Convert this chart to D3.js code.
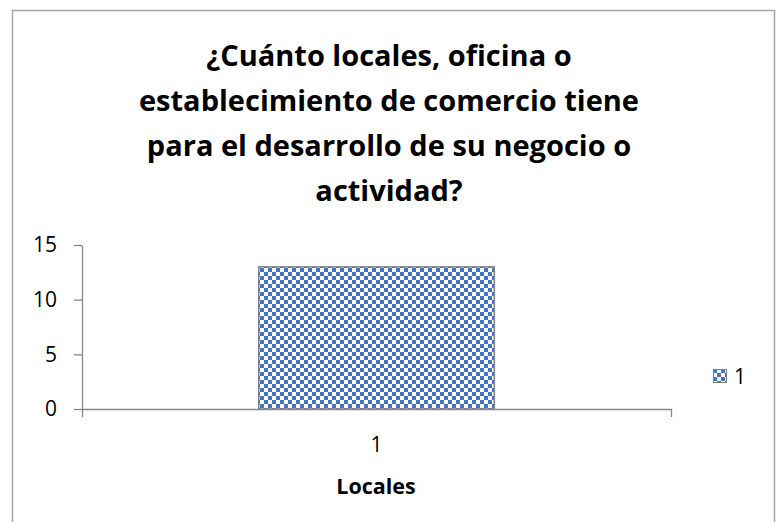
<!DOCTYPE html>
<html>
<head>
<meta charset="utf-8">
<script src="https://cdn.jsdelivr.net/npm/d3@7"></script>
<style>
  html, body { margin: 0; padding: 0; background: #fff; }
  svg { display: block; font-family: "Open Sans", "Noto Sans", sans-serif; }
</style>
</head>
<body>
<svg id="chart" width="780" height="522"></svg>
<script>
// data
const categories = ["1"];
const seriesValues = [13];
const seriesName = "1";
const yTicks = [0, 5, 10, 15];
const titleLines = [
    "¿Cuánto locales, oficina o",
    "establecimiento de comercio tiene",
    "para el desarrollo de su negocio o",
    "actividad?"
];
const xTitle = "Locales";

function render_chart()
{
    let svg = d3.select("#chart");

    let axis_color = "#868686";
    let blue = "#4472c4";

    // checkerboard fill like the office "small checker" pattern
    let defs = svg.append("defs");
    let pat = defs.append("pattern")
        .attr("id", "checker")
        .attr("patternUnits", "userSpaceOnUse")
        .attr("width", 8)
        .attr("height", 8);
    pat.append("rect").attr("width", 8).attr("height", 8).attr("fill", "#fff");
    pat.append("rect").attr("width", 4).attr("height", 4).attr("fill", blue);
    pat.append("rect").attr("x", 4).attr("y", 4).attr("width", 4).attr("height", 4).attr("fill", blue);

    // chart frame
    svg.append("rect")
        .attr("x", 12.5).attr("y", 10.5)
        .attr("width", 762).attr("height", 530)
        .attr("fill", "#fff")
        .attr("stroke", "#a6a6a6")
        .attr("stroke-width", 1.5);

    // title
    svg.append("text")
        .attr("font-size", 29)
        .attr("font-weight", "bold")
        .attr("text-anchor", "middle")
        .attr("fill", "#000")
        .selectAll("tspan")
        .data(titleLines)
        .join("tspan")
            .attr("x", 389)
            .attr("y", (d, i) => 66 + i * 45)
            .text(d => d);

    let x = d3.scaleBand()
        .domain(categories)
        .range([82, 671])
        .paddingInner(0.6)
        .paddingOuter(0.3);

    let y = d3.scaleLinear()
        .domain([0, 15])
        .range([409, 245]);

    // bars
    svg.append("g")
        .selectAll("rect")
        .data(seriesValues)
        .join("rect")
            .attr("x", (d, i) => x(categories[i]))
            .attr("y", d => y(d))
            .attr("width", x.bandwidth())
            .attr("height", d => y(0) - y(d))
            .attr("fill", "url(#checker)")
            .attr("stroke", "#7f7f7f")
            .attr("stroke-width", 1.5);

    // y axis
    let gy = svg.append("g")
        .attr("transform", "translate(82,0)")
        .call(d3.axisLeft(y).tickValues(yTicks).tickSizeInner(8).tickSizeOuter(0).tickPadding(17));
    gy.selectAll("path, line").attr("stroke", axis_color).attr("stroke-width", 1.3);
    gy.selectAll("text").attr("font-size", 21).attr("fill", "#000");
    gy.attr("font-family", null).attr("font-size", 21);

    // x axis, outer ticks mark the category bounds
    let gx = svg.append("g")
        .attr("transform", "translate(0,409)")
        .call(d3.axisBottom(x).tickSizeInner(0).tickSizeOuter(8));
    gx.selectAll("path, line").attr("stroke", axis_color).attr("stroke-width", 1.3);
    gx.selectAll("text")
        .attr("font-size", 21)
        .attr("fill", "#000")
        .attr("y", 43)
        .attr("dy", null);
    gx.attr("font-family", null).attr("font-size", 21);

    // axis title
    svg.append("text")
        .attr("x", 376)
        .attr("y", 494)
        .attr("text-anchor", "middle")
        .attr("font-size", 21.5)
        .attr("font-weight", "bold")
        .text(xTitle);

    // legend
    let legend = svg.append("g").attr("transform", "translate(713,369)");
    legend.append("rect")
        .attr("x", 0.5).attr("y", 0.5)
        .attr("width", 13).attr("height", 13)
        .attr("fill", "url(#checker)")
        .attr("stroke", "#7f7f7f");
    legend.append("text")
        .attr("x", 21)
        .attr("y", 15)
        .attr("font-size", 21)
        .text(seriesName);
}

render_chart();
</script>
</body>
</html>
